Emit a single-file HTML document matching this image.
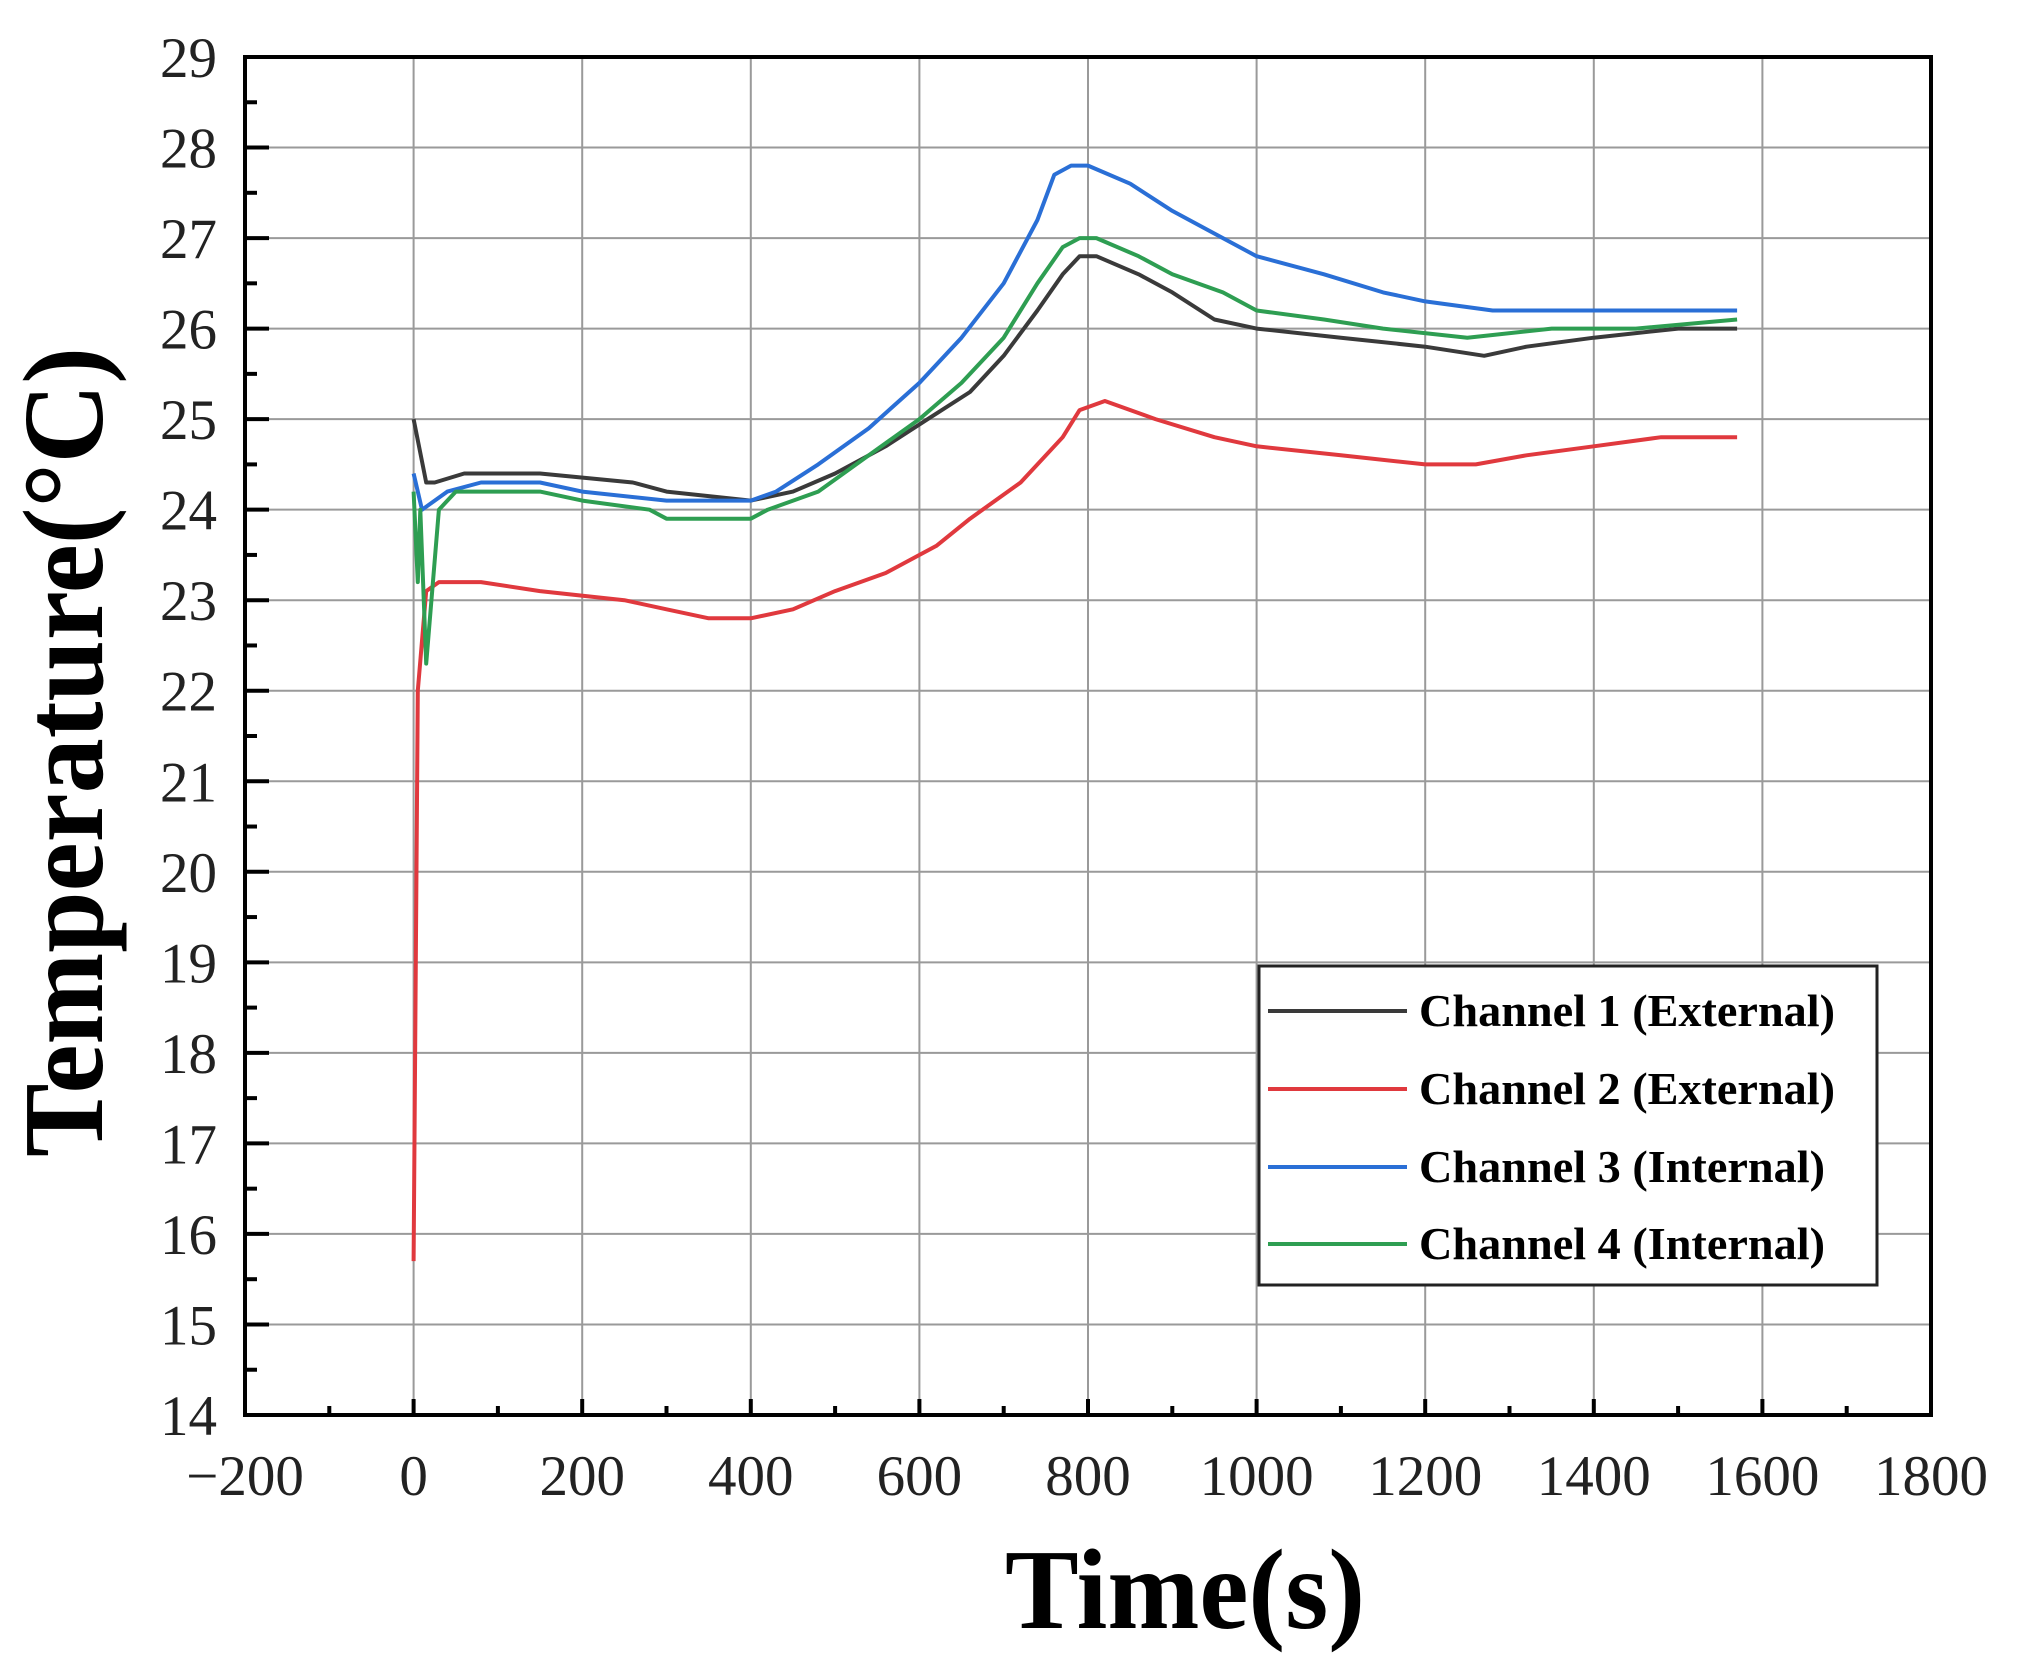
<!DOCTYPE html>
<html><head><meta charset="utf-8"><style>
html,body{margin:0;padding:0;background:#fff;}
svg{display:block;font-family:"Liberation Serif",serif;}
</style></head><body>
<svg id="chart" width="2019" height="1670" viewBox="0 0 2019 1670" xmlns="http://www.w3.org/2000/svg">
<g id="grid"></g>
<g id="series"></g>
<g id="axes"></g>
<text transform="translate(102,752) rotate(-90)" text-anchor="middle" font-size="114" font-weight="bold" textLength="810" lengthAdjust="spacingAndGlyphs">Temperature(°C)</text>
<text x="1185" y="1628" text-anchor="middle" font-size="114" font-weight="bold" textLength="360" lengthAdjust="spacingAndGlyphs">Time(s)</text>
<g id="legend"></g>
</svg>
<script>
const xTicks=[-200,0,200,400,600,800,1000,1200,1400,1600,1800];
const yTicks=[14,15,16,17,18,19,20,21,22,23,24,25,26,27,28,29];
const seriesNames=["Channel 1 (External)","Channel 2 (External)","Channel 3 (Internal)","Channel 4 (Internal)"];
const seriesColors=["#3a3a3a","#e0393e","#2a6fd6","#2e9e52"];
const ch1T=[0,15,25,60,150,260,300,400,450,500,560,610,660,700,740,770,790,810,860,900,950,1000,1100,1200,1270,1320,1400,1500,1570];
const ch1V=[25.0,24.3,24.3,24.4,24.4,24.3,24.2,24.1,24.2,24.4,24.7,25.0,25.3,25.7,26.2,26.6,26.8,26.8,26.6,26.4,26.1,26.0,25.9,25.8,25.7,25.8,25.9,26.0,26.0];
const ch2T=[0,5,15,30,80,150,250,300,350,400,450,500,560,620,660,720,770,790,820,880,950,1000,1100,1200,1260,1320,1400,1480,1570];
const ch2V=[15.7,22.0,23.1,23.2,23.2,23.1,23.0,22.9,22.8,22.8,22.9,23.1,23.3,23.6,23.9,24.3,24.8,25.1,25.2,25.0,24.8,24.7,24.6,24.5,24.5,24.6,24.7,24.8,24.8];
const ch3T=[0,10,40,80,150,200,300,400,430,480,540,600,650,700,740,760,780,800,850,900,960,1000,1080,1150,1200,1280,1400,1570];
const ch3V=[24.4,24.0,24.2,24.3,24.3,24.2,24.1,24.1,24.2,24.5,24.9,25.4,25.9,26.5,27.2,27.7,27.8,27.8,27.6,27.3,27.0,26.8,26.6,26.4,26.3,26.2,26.2,26.2];
const ch4T=[0,5,8,15,30,50,150,200,280,300,400,420,480,540,600,650,700,740,770,790,810,860,900,960,1000,1080,1150,1250,1350,1450,1570];
const ch4V=[24.2,23.2,24.0,22.3,24.0,24.2,24.2,24.1,24.0,23.9,23.9,24.0,24.2,24.6,25.0,25.4,25.9,26.5,26.9,27.0,27.0,26.8,26.6,26.4,26.2,26.1,26.0,25.9,26.0,26.0,26.1];
const allT=[ch1T,ch2T,ch3T,ch4T], allV=[ch1V,ch2V,ch3V,ch4V];

const L=245,R=1931,T=57,B=1415;
const X=t=>L+(t+200)/2000*(R-L);
const Y=v=>B-(v-14)/15*(B-T);
const NS="http://www.w3.org/2000/svg";
function mk(tag,attrs,parent){const e=document.createElementNS(NS,tag);for(const k in attrs)e.setAttribute(k,attrs[k]);parent.appendChild(e);return e;}
const grid=document.getElementById('grid'),axes=document.getElementById('axes'),ser=document.getElementById('series'),leg=document.getElementById('legend');

xTicks.forEach(t=>{
  if(t>-200&&t<1800){const g=mk('line',{x1:X(t),x2:X(t),y1:T,y2:B,stroke:'#9a9a9a','stroke-width':2},grid);
  
  }
  const tk=mk('line',{x1:X(t),x2:X(t),y1:B,y2:B-16,stroke:'#000','stroke-width':4},axes);
  
  
  if(t<1800){const m=mk('line',{x1:X(t+100),x2:X(t+100),y1:B,y2:B-9,stroke:'#000','stroke-width':4},axes);
  
  }
  const lb=mk('text',{x:X(t),y:B+80,'text-anchor':'middle','font-size':57,fill:'#222'},axes);
  
  
  lb.textContent=t<0?'\u2212'+Math.abs(t):String(t);
});
yTicks.forEach(v=>{
  if(v>14&&v<29){const g=mk('line',{x1:L,x2:R,y1:Y(v),y2:Y(v),stroke:'#9a9a9a','stroke-width':2},grid);
  
  }
  const tk=mk('line',{x1:L,x2:L+24,y1:Y(v),y2:Y(v),stroke:'#000','stroke-width':4},axes);
  
  
  if(v<29){const m=mk('line',{x1:L,x2:L+12,y1:Y(v+0.5),y2:Y(v+0.5),stroke:'#000','stroke-width':4},axes);
  
  }
  const lb=mk('text',{x:L-28,y:Y(v)+20,'text-anchor':'end','font-size':57,fill:'#222'},axes);
  
  
  lb.textContent=String(v);
});
const frame=mk('rect',{x:L,y:T,width:R-L,height:B-T,fill:'none',stroke:'#000','stroke-width':4},axes);



allT.forEach((ts,i)=>{
  let d='';
  ts.forEach((t,j)=>{d+=(j?'L':'M')+X(t).toFixed(1)+','+Y(allV[i][j]).toFixed(1);});
  const p=mk('path',{d:d,fill:'none',stroke:seriesColors[i],'stroke-width':4,'stroke-linejoin':'round'},ser);
  
  
});

const box=mk('rect',{x:1259,y:966,width:618,height:319,fill:'#fff',stroke:'#222','stroke-width':3},leg);


const ly=[1011,1089,1167,1244];
seriesNames.forEach((n,i)=>{
  const ln=mk('line',{x1:1268,x2:1407,y1:ly[i],y2:ly[i],stroke:seriesColors[i],'stroke-width':4},leg);
  
  
  const tx=mk('text',{x:1419,y:ly[i]+15,'font-size':46,'font-weight':'bold',textLength:(i<2?416:406),lengthAdjust:'spacingAndGlyphs'},leg);
  
  
  tx.textContent=n;
});
</script>
</body></html>
